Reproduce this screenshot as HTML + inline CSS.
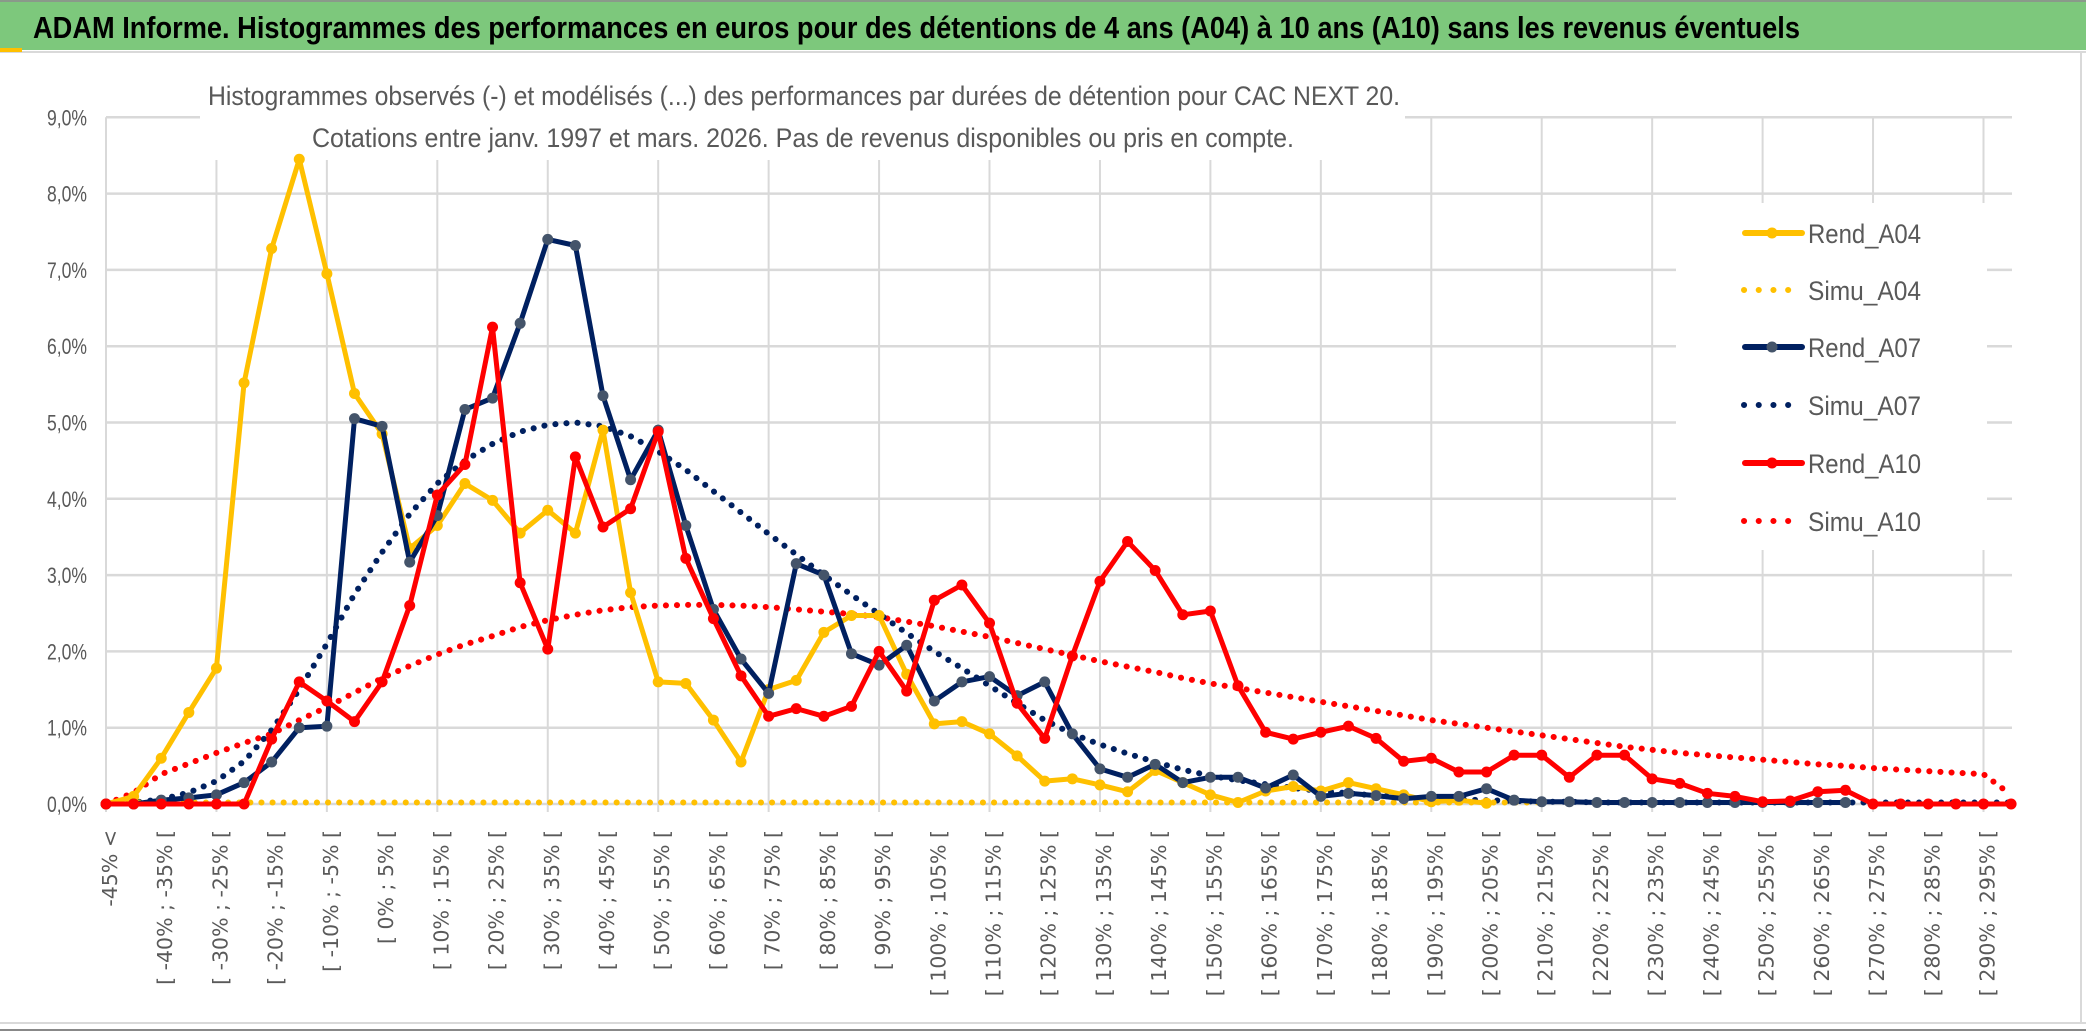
<!DOCTYPE html>
<html><head><meta charset="utf-8"><style>
html,body{margin:0;padding:0;background:#fff;}
svg{display:block;}
</style></head><body>
<svg id="chart" width="2086" height="1031" viewBox="0 0 2086 1031" xmlns="http://www.w3.org/2000/svg">
<rect x="0" y="0" width="2086" height="1031" fill="#fff"/>
<rect x="0" y="0" width="2086" height="50" fill="#7DC87C"/>
<line x1="0" y1="1" x2="2086" y2="1" stroke="#8a9a8a" stroke-width="2"/>
<line x1="0" y1="52" x2="2086" y2="52" stroke="#d9d9d9" stroke-width="2"/>
<rect x="0" y="48" width="22" height="4" fill="#FFC000"/>
<text x="33" y="38" font-family="Liberation Sans, sans-serif" font-weight="bold" font-size="31" fill="#000" textLength="1767" lengthAdjust="spacingAndGlyphs">ADAM Informe. Histogrammes des performances en euros pour des détentions de 4 ans (A04) à 10 ans (A10) sans les revenus éventuels</text>
<line x1="2081" y1="52" x2="2081" y2="1024" stroke="#d9d9d9" stroke-width="2"/>
<line x1="0" y1="1023" x2="2086" y2="1023" stroke="#d9d9d9" stroke-width="2"/>
<line x1="0" y1="1030" x2="2086" y2="1030" stroke="#888" stroke-width="2"/>
<g id="grid"></g>
<rect x="200" y="62" width="1205" height="98" fill="#fff"/>
<text x="208" y="105" font-family="Liberation Sans, sans-serif" font-size="27" fill="#595959" textLength="1192" lengthAdjust="spacingAndGlyphs">Histogrammes observés (-) et modélisés (...) des performances par durées de détention pour CAC NEXT 20.</text>
<text x="312" y="147" font-family="Liberation Sans, sans-serif" font-size="27" fill="#595959" textLength="982" lengthAdjust="spacingAndGlyphs">Cotations entre janv. 1997 et mars. 2026. Pas de revenus disponibles ou pris en compte.</text>
<g id="yaxis"></g>
<g id="xaxis"></g>
<g id="series"></g>
<g id="legend"></g>
</svg>
<script>
const categories = (function(){const c=['-45% <'];for(let a=-45;a<300;a+=5){c.push('[ '+a+'% ; '+(a+5)+'% [');}return c;})();
const yTicks = [0,1,2,3,4,5,6,7,8,9];
const yTickLabels = ['0,0%','1,0%','2,0%','3,0%','4,0%','5,0%','6,0%','7,0%','8,0%','9,0%'];
const rendA04 = [0,0.1,0.6,1.2,1.78,5.52,7.28,8.45,6.95,5.38,4.85,3.35,3.65,4.2,3.98,3.55,3.85,3.55,4.9,2.77,1.6,1.58,1.1,0.55,1.5,1.62,2.25,2.47,2.47,1.7,1.05,1.08,0.92,0.63,0.3,0.33,0.25,0.16,0.44,0.28,0.12,0.02,0.17,0.23,0.17,0.28,0.2,0.12,0.03,0.05,0.01];
const simuA04 = [0.02,0.02,0.02,0.02,0.02,0.02,0.02,0.02,0.02,0.02,0.02,0.02,0.02,0.02,0.02,0.02,0.02,0.02,0.02,0.02,0.02,0.02,0.02,0.02,0.02,0.02,0.02,0.02,0.02,0.02,0.02,0.02,0.02,0.02,0.02,0.02,0.02,0.02,0.02,0.02,0.02,0.02,0.02,0.02,0.02,0.02,0.02,0.02,0.02,0.02,0.02,0.02,0.02];
const rendA07 = [0,0,0.05,0.08,0.12,0.28,0.55,1.0,1.02,5.05,4.95,3.17,3.78,5.17,5.32,6.3,7.4,7.32,5.35,4.25,4.9,3.65,2.55,1.9,1.45,3.15,3.0,1.97,1.82,2.08,1.35,1.6,1.67,1.42,1.6,0.92,0.46,0.35,0.52,0.28,0.35,0.35,0.21,0.38,0.1,0.14,0.11,0.07,0.1,0.1,0.2,0.05,0.03,0.03,0.02,0.02,0.02,0.02,0.02,0.02,0.02,0.02,0.02,0.02];
const simuA07 = [0,0.02,0.06,0.15,0.3,0.56,0.97,1.5,2.1,2.75,3.3,3.8,4.2,4.5,4.72,4.88,4.97,5.0,4.95,4.82,4.62,4.38,4.1,3.82,3.54,3.27,3.0,2.74,2.49,2.24,2.0,1.78,1.55,1.32,1.1,0.92,0.78,0.66,0.55,0.45,0.37,0.31,0.26,0.21,0.17,0.14,0.11,0.09,0.07,0.06,0.05,0.04,0.03,0.03,0.02,0.02,0.02,0.02,0.02,0.02,0.02,0.02,0.02,0.02,0.02,0.02,0.02,0.02,0.02,0.02];
const rendA10 = [0,0,0,0,0,0,0.85,1.6,1.35,1.08,1.6,2.6,4.05,4.45,6.25,2.9,2.03,4.55,3.63,3.87,4.88,3.22,2.43,1.68,1.15,1.25,1.15,1.28,2.0,1.48,2.67,2.87,2.37,1.32,0.86,1.94,2.92,3.44,3.06,2.48,2.53,1.55,0.94,0.85,0.94,1.02,0.86,0.56,0.6,0.42,0.42,0.64,0.64,0.35,0.64,0.64,0.33,0.27,0.14,0.1,0.03,0.04,0.16,0.18,0,0,0,0,0,0];
const simuA10 = [0,0.15,0.39,0.53,0.67,0.8,0.92,1.1,1.27,1.46,1.65,1.81,1.96,2.09,2.2,2.32,2.41,2.48,2.54,2.58,2.6,2.61,2.61,2.6,2.58,2.55,2.52,2.49,2.45,2.39,2.33,2.26,2.19,2.11,2.03,1.95,1.87,1.8,1.73,1.65,1.58,1.52,1.46,1.4,1.34,1.28,1.22,1.16,1.1,1.05,1.0,0.95,0.9,0.85,0.8,0.75,0.71,0.67,0.64,0.61,0.58,0.55,0.52,0.5,0.47,0.45,0.43,0.41,0.39,0.12];
const legendNames = ['Rend_A04','Simu_A04','Rend_A07','Simu_A07','Rend_A10','Simu_A10'];

const NS='http://www.w3.org/2000/svg';
const X0=106, DX=27.61, Y0=804, DY=76.3, XR=2012;
function xs(i){return X0+i*DX;}
function ys(v){return Y0-v*DY;}
function mk(tag,attrs,parent){const e=document.createElementNS(NS,tag);for(const k in attrs)e.setAttribute(k,attrs[k]);parent.appendChild(e);return e;}

const grid=document.getElementById('grid');
yTicks.forEach(function(t){
  const l=mk('line',{x1:X0,y1:ys(t),x2:XR,y2:ys(t),stroke:'#d9d9d9','stroke-width':2.5},grid);
  
  
});
for(let i=0;i<categories.length;i+=4){
  const l=mk('line',{x1:xs(i),y1:ys(9),x2:xs(i),y2:ys(0)+8,stroke:'#d9d9d9','stroke-width':2},grid);
  
  
}
const ya=document.getElementById('yaxis');
yTicks.forEach(function(t,k){
  const tx=mk('text',{x:87,y:ys(t)+8,'text-anchor':'end','font-family':'Liberation Sans, sans-serif','font-size':22,fill:'#595959',textLength:40,lengthAdjust:'spacingAndGlyphs'},ya);
  tx.textContent=yTickLabels[k];
  
  
});
const xa=document.getElementById('xaxis');
categories.forEach(function(c,i){
  if(i%2) return;
  const x=xs(i)+4, y=830;
  const tx=mk('text',{x:x,y:y,transform:'rotate(-90 '+x+' '+y+')','text-anchor':'end','dominant-baseline':'central','font-family':'DejaVu Sans, sans-serif','font-size':20.5,fill:'#595959'},xa);
  tx.textContent=c;
  
  
});

const sg=document.getElementById('series');
function path(vals){return vals.map(function(v,i){return (i?'L':'M')+xs(i).toFixed(1)+' '+ys(v).toFixed(1);}).join(' ');}
function dotted(vals,color,name){
  const p=mk('path',{d:path(vals),fill:'none',stroke:color,'stroke-width':6,'stroke-linecap':'round','stroke-dasharray':'0.1 11'},sg);
  
  
}
function solid(vals,color,mcolor,name){
  const g=mk('g',{},sg);
  
  
  mk('path',{d:path(vals),fill:'none',stroke:color,'stroke-width':5,'stroke-linejoin':'round'},g);
  vals.forEach(function(v,i){
    const c=mk('circle',{cx:xs(i),cy:ys(v),r:5.5,fill:mcolor},g);
    
    
  });
}
dotted(simuA10,'#FF0000','simu-a10-line');
dotted(simuA07,'#002060','simu-a07-line');
dotted(simuA04,'#FFC000','simu-a04-line');
solid(rendA04,'#FFC000','#FFC000','rend-a04-line');
solid(rendA07,'#002060','#44546A','rend-a07-line');
solid(rendA10,'#FF0000','#FF0000','rend-a10-line');

const lg=document.getElementById('legend');
const bg=mk('rect',{x:1676,y:203,width:311,height:347,fill:'#fff'},lg);


const lcol=['#FFC000','#FFC000','#002060','#002060','#FF0000','#FF0000'];
const lmk=['#FFC000',null,'#44546A',null,'#FF0000',null];
const lyy=[233,290,347,405,463,521];
legendNames.forEach(function(n,k){
  const g=mk('g',{},lg);
  
  
  const y=lyy[k];
  if(lmk[k]){
    mk('line',{x1:1745,y1:y,x2:1802,y2:y,stroke:lcol[k],'stroke-width':6,'stroke-linecap':'round'},g);
    mk('circle',{cx:1772,cy:y,r:5.5,fill:lmk[k]},g);
  } else {
    mk('line',{x1:1744,y1:y,x2:(k==5?1802:1792),y2:y,stroke:lcol[k],'stroke-width':6,'stroke-linecap':'round','stroke-dasharray':'0.1 14.6'},g);
  }
  const t=mk('text',{x:1808,y:y+10,'font-family':'Liberation Sans, sans-serif','font-size':27,fill:'#595959',textLength:113,lengthAdjust:'spacingAndGlyphs'},g);
  t.textContent=n;
});
</script>
</body></html>
